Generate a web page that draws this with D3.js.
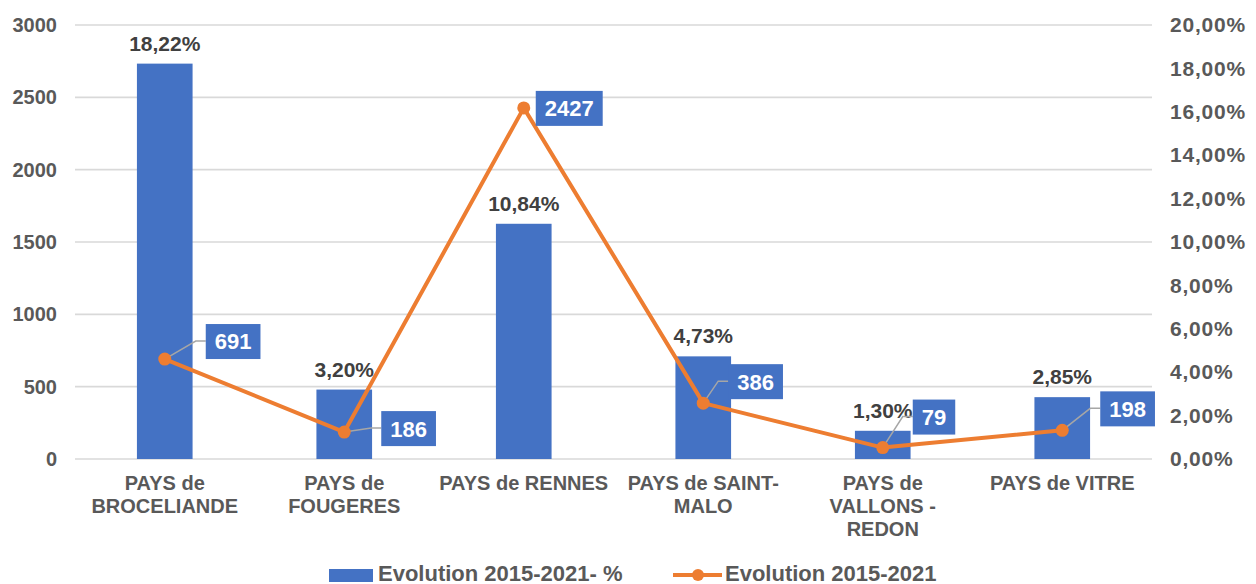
<!DOCTYPE html>
<html>
<head>
<meta charset="utf-8">
<script src="https://cdn.jsdelivr.net/npm/d3@7"></script>
<style>
  body { margin: 0; background: #fff; }
  text { font-family: "Liberation Sans", Arial, sans-serif; }
</style>
</head>
<body>
<script>
// data
var categories = ["PAYS de BROCELIANDE", "PAYS de FOUGERES", "PAYS de RENNES", "PAYS de SAINT-MALO", "PAYS de VALLONS - REDON", "PAYS de VITRE"];
var evolutionPct = [18.22, 3.20, 10.84, 4.73, 1.30, 2.85];
var evolutionAbs = [691, 186, 2427, 386, 79, 198];
var leftTicks = [0, 500, 1000, 1500, 2000, 2500, 3000];
var rightTicks = [0, 2, 4, 6, 8, 10, 12, 14, 16, 18, 20];

// where each blue value box sits, relative to its point
var labelOffsets = [[41, -18], [37, -4], [12, 0], [25, -22], [30, -31], [38, -22]];

var width = 1256;
var height = 584;
var plotLeft = 75, plotRight = 1152, plotTop = 25, plotBottom = 459;

var blue = "#4472C4";
var orange = "#ED7D31";
var grey = "#595959";

var svg = d3.select('body')
        .append("svg")
        .attr("width", width)
        .attr("height", height);

var x = d3.scaleBand()
        .domain(categories)
        .range([plotLeft, plotRight])
        .paddingInner(0.69)
        .paddingOuter(0.345);

var yLeft = d3.scaleLinear().domain([0, 3000]).range([plotBottom, plotTop]);
var yRight = d3.scaleLinear().domain([0, 20]).range([plotBottom, plotTop]);

function cx(d) {
    return x(d) + x.bandwidth() / 2;
}
function frNum(v) {
    return d3.format(".2f")(v).replace(".", ",") + "%";
}

// gridlines
svg.selectAll('line.grid')
        .data(leftTicks)
        .enter()
        .append("line")
        .attr("class", "grid")
        .attr("x1", plotLeft)
        .attr("x2", plotRight)
        .attr("y1", function(d) { return yLeft(d); })
        .attr("y2", function(d) { return yLeft(d); })
        .attr("stroke", "#D9D9D9")
        .attr("stroke-width", 1.6);

// left axis
var ax = svg.append("g")
        .attr("transform", "translate(" + plotLeft + ",0)")
        .call(d3.axisLeft(yLeft).tickValues(leftTicks).tickSize(0).tickPadding(18).tickFormat(d3.format("d")));
ax.select(".domain").remove();
ax.selectAll("text")
        .attr("fill", grey)
        .style("font-size", "20px")
        .style("font-weight", "bold");

// right axis
var ax2 = svg.append("g")
        .attr("transform", "translate(" + plotRight + ",0)")
        .call(d3.axisRight(yRight).tickValues(rightTicks).tickSize(0).tickPadding(18).tickFormat(frNum));
ax2.select(".domain").remove();
ax2.selectAll("text")
        .attr("fill", grey)
        .style("font-size", "21px")
        .style("font-weight", "bold")
        .style("letter-spacing", "0.8px");

// category labels, wrapped like the original
var cats = svg.selectAll('text.cat')
        .data(categories)
        .enter()
        .append("text")
        .attr("class", "cat")
        .attr("x", function(d) { return cx(d); })
        .attr("y", 490)
        .attr("text-anchor", "middle")
        .attr("fill", grey)
        .style("font-size", "20px")
        .style("font-weight", "bold");

cats.each(function(d) {
    var el = d3.select(this);
    var tokens = d.replace(/-(?=\S)/g, "-\u0000").split(/ |\u0000/);
    var joins = [];
    // remember whether each token was joined by a space or not
    var rest = d;
    tokens.forEach(function(t, i) {
        rest = rest.slice(t.length);
        if (rest.charAt(0) === " ") { joins.push(" "); rest = rest.slice(1); }
        else joins.push("");
    });
    var lines = [];
    var cur = "";
    var sep = "";
    var probe = el.append("tspan");
    tokens.forEach(function(t, i) {
        var test = cur + sep + t;
        probe.text(test);
        if (cur !== "" && probe.node().getComputedTextLength() > 176) {
            lines.push(cur);
            cur = t;
        } else {
            cur = test;
        }
        sep = joins[i];
    });
    lines.push(cur);
    probe.remove();
    lines.forEach(function(l, i) {
        el.append("tspan")
            .attr("x", cx(d))
            .attr("dy", i === 0 ? 0 : 23)
            .text(l.trim());
    });
});

// bars (right axis, percent)
svg.selectAll('rect.bar')
        .data(evolutionPct)
        .enter()
        .append("rect")
        .attr("class", "bar")
        .attr("x", function(d, i) { return x(categories[i]); })
        .attr("width", x.bandwidth())
        .attr("y", function(d) { return yRight(d); })
        .attr("height", function(d) { return plotBottom - yRight(d); })
        .attr("fill", blue);

svg.selectAll('text.barlab')
        .data(evolutionPct)
        .enter()
        .append("text")
        .attr("class", "barlab")
        .attr("x", function(d, i) { return cx(categories[i]); })
        .attr("y", function(d) { return yRight(d) - 13; })
        .attr("text-anchor", "middle")
        .attr("fill", "#404040")
        .style("font-size", "21px")
        .style("font-weight", "bold")
        .text(function(d) { return frNum(d); });

// line (left axis, absolute)
var line = d3.line()
        .x(function(d, i) { return cx(categories[i]); })
        .y(function(d) { return yLeft(d); });

// leader lines
svg.selectAll('polyline.leader')
        .data(evolutionAbs)
        .enter()
        .append("polyline")
        .attr("class", "leader")
        .attr("fill", "none")
        .attr("stroke", "#A6A6A6")
        .attr("stroke-width", 1.5)
        .attr("points", function(d, i) {
            var px = cx(categories[i]), py = yLeft(d);
            var o = labelOffsets[i];
            if (o[0] < 20) return "";
            var bx = px + o[0], by = py + o[1];
            return [[px, py], [bx - 10, by], [bx, by]].join(" ");
        });

svg.append("path")
        .datum(evolutionAbs)
        .attr("d", line)
        .attr("fill", "none")
        .attr("stroke", orange)
        .attr("stroke-width", 4)
        .attr("stroke-linejoin", "round");

svg.selectAll('circle.pt')
        .data(evolutionAbs)
        .enter()
        .append("circle")
        .attr("class", "pt")
        .attr("cx", function(d, i) { return cx(categories[i]); })
        .attr("cy", function(d) { return yLeft(d); })
        .attr("r", 6.5)
        .attr("fill", orange);

// blue value boxes
var boxes = svg.selectAll('g.vbox')
        .data(evolutionAbs)
        .enter()
        .append("g")
        .attr("class", "vbox");

boxes.append("rect").attr("fill", blue);
boxes.append("text")
        .attr("fill", "#fff")
        .attr("text-anchor", "middle")
        .attr("dy", "0.36em")
        .style("font-size", "22px")
        .style("font-weight", "bold")
        .text(function(d) { return d; });

boxes.each(function(d, i) {
    var g = d3.select(this);
    var t = g.select("text");
    var w = t.node().getComputedTextLength() + 18;
    var bx = cx(categories[i]) + labelOffsets[i][0];
    var by = yLeft(d) + labelOffsets[i][1];
    g.select("rect")
        .attr("x", bx)
        .attr("y", by - 17)
        .attr("width", w)
        .attr("height", 35);
    t.attr("x", bx + w / 2).attr("y", by + 0.5);
});

// legend
var legend = svg.append("g");
legend.append("rect")
        .attr("x", 329)
        .attr("y", 569)
        .attr("width", 44)
        .attr("height", 13)
        .attr("fill", blue);
legend.append("text")
        .attr("x", 378)
        .attr("y", 581)
        .attr("fill", grey)
        .style("font-size", "22px")
        .style("font-weight", "bold")
        .text("Evolution 2015-2021- %");
legend.append("line")
        .attr("x1", 673)
        .attr("x2", 722)
        .attr("y1", 575)
        .attr("y2", 575)
        .attr("stroke", orange)
        .attr("stroke-width", 4);
legend.append("circle")
        .attr("cx", 698)
        .attr("cy", 575)
        .attr("r", 6)
        .attr("fill", orange);
legend.append("text")
        .attr("x", 725)
        .attr("y", 581)
        .attr("fill", grey)
        .style("font-size", "22px")
        .style("font-weight", "bold")
        .text("Evolution 2015-2021");
</script>
</body>
</html>
